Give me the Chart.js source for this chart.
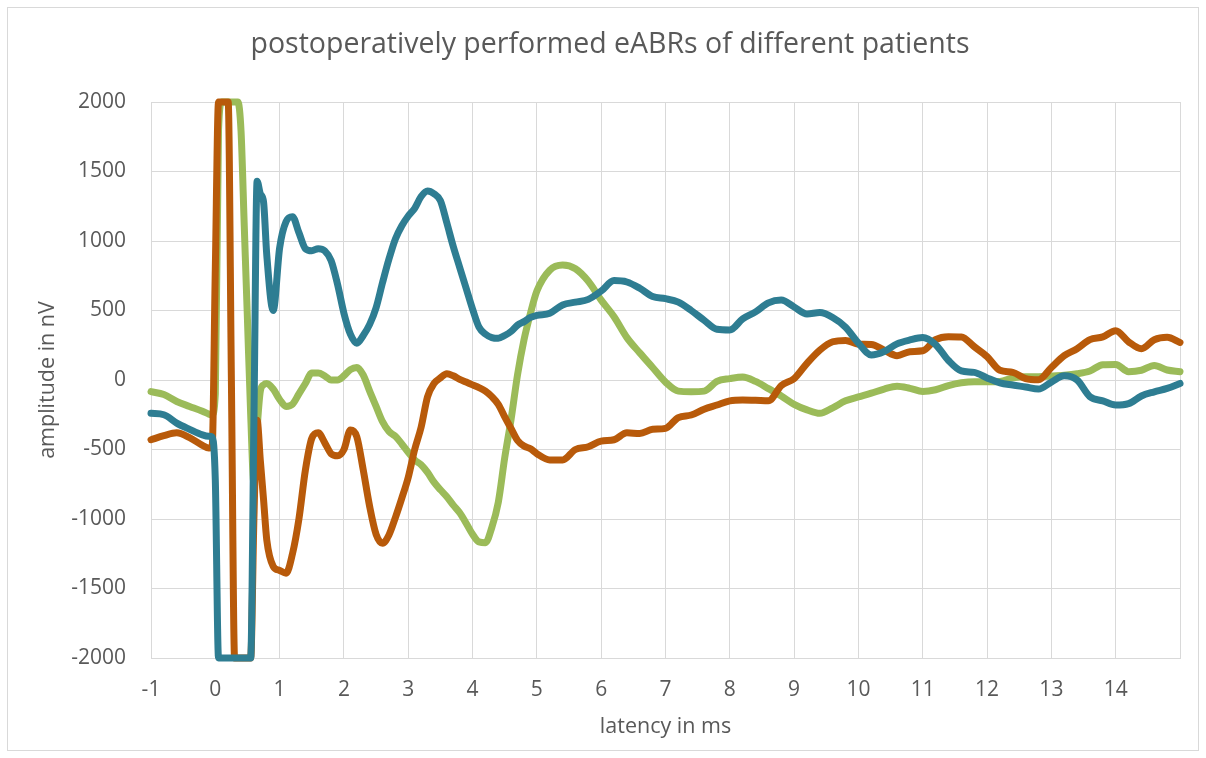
<!DOCTYPE html>
<html>
<head>
<meta charset="utf-8">
<title>eABRs</title>
<script src="https://cdn.jsdelivr.net/npm/chart.js"></script>
<style>
    body { margin: 0; background: #ffffff; }
    #wrap { width: 1206px; height: 758px; }
</style>
</head>
<body>
<div id="wrap"><canvas id="eabrChart" width="1206" height="758"></canvas></div>
<script>
// latency in ms (finer steps around the stimulus artefact)
const latency = [
    -1, -0.8, -0.6, -0.4, -0.2, -0.1, -0.05,
    0, 0.05, 0.1, 0.15, 0.2, 0.25, 0.3, 0.35, 0.4, 0.45,
    0.5, 0.55, 0.6, 0.65, 0.7, 0.75, 0.8, 0.9,
    1.0, 1.1, 1.2, 1.3, 1.4, 1.5, 1.6, 1.7, 1.8, 1.9,
    2.0, 2.1, 2.2, 2.3, 2.4, 2.5, 2.6, 2.7, 2.8, 2.9,
    3.0, 3.1, 3.2, 3.3, 3.4, 3.5, 3.6, 3.7, 3.8, 3.9,
    4.0, 4.1, 4.2, 4.3, 4.4, 4.5, 4.6, 4.7, 4.8, 4.9,
    5.0, 5.2, 5.4, 5.6, 5.8, 6.0, 6.2, 6.4, 6.6, 6.8,
    7.0, 7.2, 7.4, 7.6, 7.8, 8.0, 8.2, 8.4, 8.6, 8.8,
    9.0, 9.2, 9.4, 9.6, 9.8, 10.0, 10.2, 10.4, 10.6, 10.8,
    11.0, 11.2, 11.4, 11.6, 11.8, 12.0, 12.2, 12.4, 12.6, 12.8,
    13.0, 13.2, 13.4, 13.6, 13.8, 14.0, 14.2, 14.4, 14.6, 14.8,
    15.0
];

// amplitude in nV
const tealPatient = [
    -240, -250, -310, -355, -395, -405, -410,
    -720, -2000, -2000, -2000, -2000, -2000, -2000, -2000, -2000, -2000,
    -2000, -2000, -300, 1430, 1340, 1280, 900, 500,
    950, 1140, 1175, 1060, 945, 930, 945, 930, 860, 690,
    480, 330, 265, 320, 400, 520, 700, 870, 1015, 1110,
    1180, 1235, 1320, 1360, 1340, 1290, 1130, 960, 810, 660,
    510, 380, 330, 305, 300, 320, 350, 395, 420, 450,
    465, 480, 540, 560, 580, 640, 715, 705, 660, 600,
    585, 560, 500, 430, 365, 360, 440, 490, 555, 575,
    525, 475, 485, 450, 380, 265, 180, 205, 260, 288,
    305, 255, 140, 65, 55, 15, -20, -36, -50, -65,
    -15, 30, 0, -120, -150, -180, -170, -115, -85, -60,
    -25
];

const orangePatient = [
    -430, -400, -380, -415, -470, -490, -485,
    800, 2000, 2000, 2000, 2000, 0, -2000, -2000, -2000, -2000,
    -2000, -2000, -1000, -290, -580, -860, -1150, -1340,
    -1370, -1390, -1250, -1000, -650, -420, -380, -450, -530, -545,
    -500, -360, -408, -647, -910, -1110, -1175, -1115, -990, -850,
    -700, -500, -340, -120, -25, 15, 45, 30, 5, -15,
    -35, -55, -80, -120, -175, -265, -350, -435, -475, -495,
    -530, -575, -575, -500, -480, -440, -430, -380, -385, -355,
    -348, -270, -252, -210, -180, -150, -144, -146, -150, -40,
    10, 120, 215, 275, 285, 258, 255, 215, 175, 204,
    210, 290, 312, 310, 240, 168, 70, 55, 10, 2,
    90, 175, 225, 290, 310, 355, 275, 225, 290, 307,
    270
];

const greenPatient = [
    -84, -105, -155, -190, -225, -245, -250,
    -100, 1800, 2000, 2000, 2000, 2000, 2000, 2000, 1790, 1110,
    430, -250, -740, -350, -80, -35, -25, -65,
    -140, -190, -175, -100, -25, 50, 50, 30, 0, 0,
    30, 75, 90, 36, -80, -190, -300, -370, -405, -460,
    -520, -575, -610, -665, -735, -790, -840, -900, -955, -1030,
    -1110, -1165, -1170, -1060, -880, -560, -280, 40, 290, 480,
    640, 790, 827, 800, 710, 575, 455, 305, 195, 90,
    -15, -80, -84, -80, -10, 10, 22, -10, -62, -115,
    -175, -215, -240, -200, -150, -122, -95, -65, -45, -60,
    -82, -70, -40, -20, -12, -12, -10, 15, 24, 24,
    28, 34, 45, 65, 110, 112, 60, 70, 105, 72,
    60
];

const xTicks = [-1, 0, 1, 2, 3, 4, 5, 6, 7, 8, 9, 10, 11, 12, 13, 14];
const yMin = -2000;
const yMax = 2000;

const textColor = '#595959';
const gridColor = '#D9D9D9';

function toPoints(values) {
    return latency.map(function(x, i) {
        return { x: x, y: values[i] };
    });
}

function lineSet(label, values, color) {
    return {
        label: label,
        data: toPoints(values),
        borderColor: color,
        backgroundColor: color,
        borderWidth: 7,
        pointRadius: 0,
        cubicInterpolationMode: 'monotone',
        borderJoinStyle: 'round',
        borderCapStyle: 'round',
        clip: 4
    };
}

const chartFrame = {
    id: 'chartFrame',
    beforeDraw: function(chart) {
        const ctx = chart.ctx;
        ctx.save();
        ctx.fillStyle = '#ffffff';
        ctx.fillRect(0, 0, chart.width, chart.height);
        ctx.strokeStyle = gridColor;
        ctx.lineWidth = 1;
        ctx.strokeRect(7.5, 7.5, 1191, 743);
        ctx.restore();
    }
};

const ctx = document.getElementById('eabrChart').getContext('2d');
new Chart(ctx, {
    type: 'line',
    data: {
        datasets: [
            lineSet('patient 1', tealPatient, '#2E7D92'),
            lineSet('patient 2', orangePatient, '#B85A0A'),
            lineSet('patient 3', greenPatient, '#9BBB59')
        ]
    },
    options: {
        responsive: false,
        animation: false,
        layout: { padding: { left: 14, right: 0, top: 0, bottom: 0 } },
        plugins: {
            legend: { display: false },
            tooltip: { enabled: false },
            title: {
                display: true,
                text: 'postoperatively performed eABRs of different patients',
                color: textColor,
                font: { family: 'Open Sans', size: 28.5, weight: 'normal' },
                padding: { top: 28, bottom: 39.8 }
            }
        },
        scales: {
            x: {
                type: 'linear',
                min: -1,
                max: 15,
                afterFit: function(scale) { scale.height = 100; },
                afterBuildTicks: function(scale) {
                    scale.ticks = xTicks.concat([15]).map(function(v) { return { value: v }; });
                },
                ticks: {
                    autoSkip: false,
                    maxRotation: 0,
                    padding: 19,
                    color: textColor,
                    font: { family: 'Open Sans', size: 21 },
                    callback: function(v) { return xTicks.indexOf(v) >= 0 ? String(v) : ''; }
                },
                grid: { color: gridColor, drawTicks: false },
                border: { color: gridColor },
                title: {
                    display: true,
                    text: 'latency in ms',
                    color: textColor,
                    font: { family: 'Open Sans', size: 21.5 },
                    padding: { top: 0, bottom: 18 }
                }
            },
            y: {
                min: yMin,
                max: yMax,
                afterFit: function(scale) { scale.width = 137; },
                ticks: {
                    stepSize: 500,
                    padding: 25,
                    color: textColor,
                    font: { family: 'Open Sans', size: 21 },
                    callback: function(v) { return String(v); }
                },
                grid: { color: gridColor, drawTicks: false },
                border: { display: false },
                title: {
                    display: true,
                    text: 'amplitude in nV',
                    color: textColor,
                    font: { family: 'Open Sans', size: 21.5 },
                    padding: { top: 21, bottom: 0 }
                }
            },
            // empty strip on the right, keeps the plot edge at the frame margin
            yRight: {
                position: 'right',
                min: yMin,
                max: yMax,
                afterFit: function(scale) { scale.width = 26; },
                ticks: { display: false },
                grid: { display: false },
                border: { display: false }
            }
        }
    },
    plugins: [chartFrame]
});
</script>
</body>
</html>
